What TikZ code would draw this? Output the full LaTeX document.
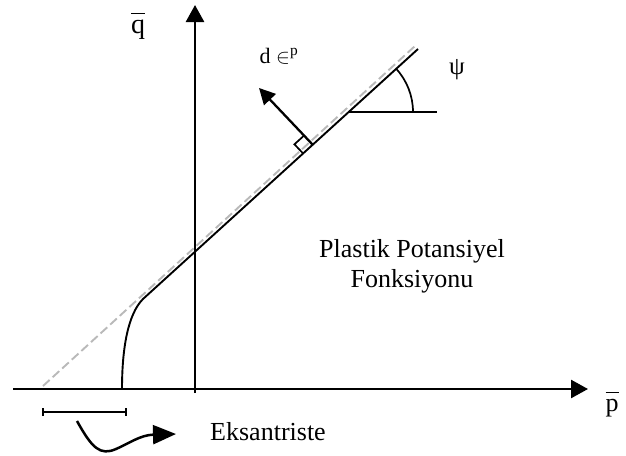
\documentclass[tikz,border=0pt]{standalone}
\usepackage{fontspec}
\setmainfont{Liberation Serif}
\usetikzlibrary{arrows.meta,calc}
\begin{document}
\begin{tikzpicture}[x=1pt,y=-1pt,
  axis/.style={line width=2.6pt,-{Triangle[length=17pt,width=18pt]}},
  solidline/.style={line width=1.9pt},
  dashline/.style={line width=1.9pt,gray!55,dash pattern=on 9pt off 4pt},
  thin/.style={line width=1.7pt},
  lbl/.style={inner sep=0pt,font=\fontsize{26}{30}\selectfont}]
\useasboundingbox (0,0) rectangle (626,455);
% axes
\coordinate (xs) at (13,389);
\coordinate (xe) at (588,389);
\coordinate (ys) at (195,393);
\coordinate (ye) at (195,5);
\draw[axis] (xs) -- (xe);
\draw[axis] (ys) -- (ye);
% dashed asymptote and solid line
\coordinate (d0) at (43,386);
\coordinate (d1) at (415,46);
\draw[dashline] (d0) -- (d1);
\coordinate (tp) at (143,299);
\coordinate (l1) at (418,49);
\coordinate (cb) at (122,389);
\draw[solidline] (cb) .. controls (122,348) and (128,314) .. (tp) -- (l1);
% normal arrow with right angle mark
\coordinate (F) at (313,145);
\coordinate (T) at (259,88);
\draw[line width=2.3pt,-{Triangle[length=16pt,width=16pt]}] (F) -- (T);
\coordinate (sa) at ($(F)!13pt!(tp)$);
\coordinate (sb) at ($(F)!13pt!(T)$);
\draw[thin] (sa) -- ($(sa)+(sb)-(F)$) -- (sb);
% psi angle
\coordinate (C) at (349,112);
\coordinate (H) at (437,112);
\draw[thin] (C) -- (H);
\draw[thin] ($(C)+(-42.4:64)$) arc[start angle=-42.4,end angle=0,radius=64];
% labels
\node[lbl,font=\fontsize{28}{32}\selectfont] (q) at (138,26) {$\overline{\mbox{\vphantom{d}q}}$};
\node[lbl] (p) at (612,404) {$\overline{\mbox{\vphantom{d}p}}$};
\node[lbl,font=\fontsize{25}{28}\selectfont] (psi) at (457,70) {ψ};
\node[lbl,font=\fontsize{22}{26}\selectfont] (de) at (279,56) {d $\in^{\mathrm{p}}$};
\node[lbl,align=center] (ppf) at (412,266) {Plastik Potansiyel\\Fonksiyonu};
\node[lbl] (eks) at (268,432) {Eksantriste};
% eccentricity bracket and arrow
\coordinate (b0) at (42,412);
\coordinate (b1) at (127,412);
\draw[thin,{Bar[width=8pt]}-{Bar[width=8pt]}] (b0) -- (b1);
\coordinate (c0) at (77,421);
\coordinate (c1) at (176,434);
\draw[line width=2.5pt,-{Triangle[length=23pt,width=19pt]}] (c0) .. controls (92,448) and (100,456) .. (116,449) .. controls (128,444) and (140,435) .. (c1);
\end{tikzpicture}
\end{document}
